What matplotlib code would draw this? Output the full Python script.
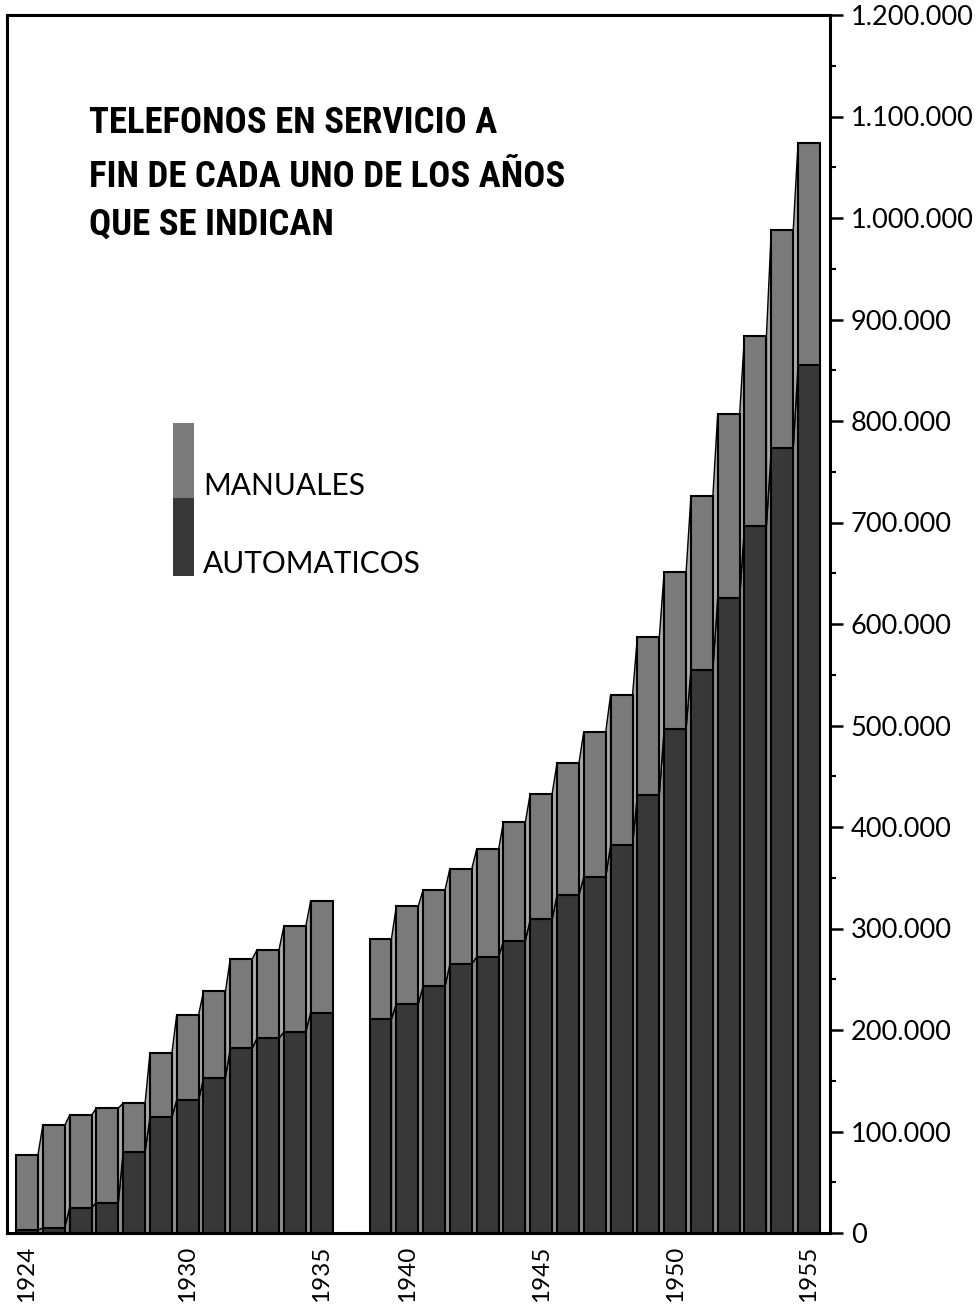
import matplotlib
matplotlib.use("Agg")
import matplotlib.pyplot as plt
from matplotlib.patches import Rectangle, Polygon

# ===== datos (miles de teléfonos) =====
years_a = [1924, 1925, 1926, 1927, 1928, 1929, 1930, 1931, 1932, 1933, 1934, 1935]
total_a = [77, 106, 116, 123, 128, 177, 215, 238, 270, 279, 302, 327]
auto_a = [3, 5, 25, 30, 80, 114, 131, 153, 182, 192, 198, 217]

years_b = [1939, 1940, 1941, 1942, 1943, 1944, 1945, 1946, 1947, 1948,
           1949, 1950, 1951, 1952, 1953, 1954, 1955]
total_b = [290, 322, 338, 359, 378, 405, 433, 463, 494, 530,
           587, 651, 726, 807, 884, 988, 1074]
auto_b = [211, 226, 243, 265, 272, 288, 309, 333, 351, 382,
          432, 497, 555, 626, 697, 773, 855]

year_labels = [1924, 1930, 1935, 1940, 1945, 1950, 1955]
title_lines = ["TELEFONOS EN SERVICIO A",
               "FIN DE CADA UNO DE LOS AÑOS",
               "QUE SE INDICAN"]

c_man = "#7a7a7a"
c_aut = "#383838"
c_man_side = "#ababab"
c_aut_side = "#8e8e8e"

W = 976
H = 1306
fig = plt.figure(figsize=(W / 100, H / 100), dpi=100)
ax = fig.add_axes([7 / W, (H - 1233) / H, 823 / W, 1218 / H])

gap = 2.2
half = 0.41

groups = [
    ([i for i in range(len(years_a))], total_a, auto_a),
    ([11 + gap + i for i in range(len(years_b))], total_b, auto_b),
]

pos_of_year = {}
for (pos, tot, aut), yrs in zip(groups, [years_a, years_b]):
    tot = [v * 1000 for v in tot]
    aut = [v * 1000 for v in aut]
    man = [t - a for t, a in zip(tot, aut)]
    for p, y in zip(pos, yrs):
        pos_of_year[y] = p
    # caras laterales (efecto de relieve)
    for k in range(1, len(pos)):
        x0 = pos[k - 1] + half
        x1 = pos[k] - half
        ax.add_patch(Polygon([(x0, 0), (x0, aut[k - 1]), (x1, aut[k]), (x1, 0)],
                             closed=True, facecolor=c_aut_side,
                             edgecolor="black", lw=1.0, zorder=2))
        ax.add_patch(Polygon([(x0, aut[k - 1]), (x0, tot[k - 1]),
                              (x1, tot[k]), (x1, aut[k])],
                             closed=True, facecolor=c_man_side,
                             edgecolor="black", lw=1.0, zorder=2))
    ax.bar(pos, aut, width=2 * half, color=c_aut, edgecolor="black",
           lw=1.5, zorder=3)
    ax.bar(pos, man, bottom=aut, width=2 * half, color=c_man,
           edgecolor="black", lw=1.5, zorder=3)

s = 804 / (pos_of_year[1955] + 2 * half)
ax.set_xlim(-half - 9 / s, pos_of_year[1955] + half + 10 / s)
ax.set_ylim(0, 1200000)

for sp in ax.spines.values():
    sp.set_linewidth(2.2)
    sp.set_zorder(5)

ax.yaxis.tick_right()
yt = list(range(0, 1200001, 100000))
ax.set_yticks(yt)
ax.set_yticklabels(["{:,}".format(v).replace(",", ".") for v in yt],
                   fontsize=19.5, family=["Lato", "DejaVu Sans"])
ax.set_yticks(list(range(50000, 1200000, 100000)), minor=True)
ax.tick_params(axis="y", which="major", direction="out", length=9,
               width=1.8, pad=6)
ax.tick_params(axis="y", which="minor", direction="out", length=4,
               width=1.5)

ax.set_xticks([pos_of_year[y] for y in year_labels])
ax.set_xticklabels([str(y) for y in year_labels], rotation=90,
                   fontsize=17.5, family=["Lato", "DejaVu Sans"])
ax.tick_params(axis="x", length=0, pad=9)

# ===== título =====
for line, yb in zip(title_lines, [133, 187, 235]):
    fig.text(89 / W, (H - yb) / H, line, fontsize=26.5, fontweight="bold",
             fontstretch="condensed",
             family=["Roboto Condensed", "Roboto", "DejaVu Sans"],
             va="baseline", ha="left")

# ===== leyenda =====
fig.add_artist(Rectangle((173 / W, (H - 498) / H), 21 / W, 75 / H,
                         transform=fig.transFigure, facecolor=c_man,
                         edgecolor="none"))
fig.add_artist(Rectangle((173 / W, (H - 576) / H), 21 / W, 78 / H,
                         transform=fig.transFigure, facecolor=c_aut,
                         edgecolor="none"))
fig.text(203 / W, (H - 495) / H, "MANUALES", fontsize=21.5,
         family=["Lato", "DejaVu Sans"], va="baseline")
fig.text(203 / W, (H - 573) / H, "AUTOMATICOS", fontsize=21.5,
         family=["Lato", "DejaVu Sans"], va="baseline")

fig.savefig("out.png", dpi=100)
